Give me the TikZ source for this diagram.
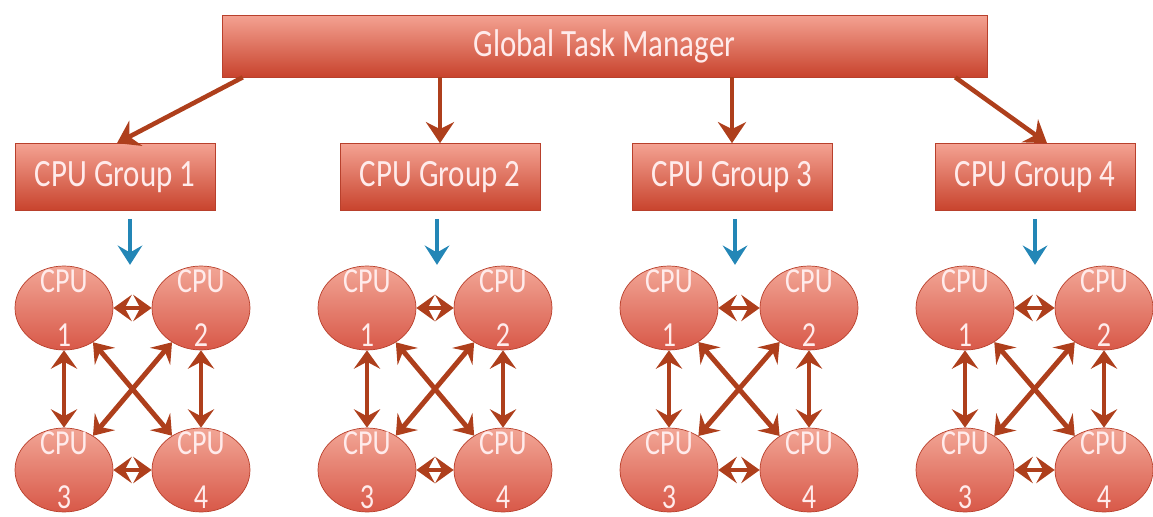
\documentclass[tikz,border=0pt]{standalone}
\usepackage{fontspec}
\usepackage{tikz}
\usetikzlibrary{calc,arrows.meta,shapes.geometric}
\newfontfamily\slidefont[FakeStretch=0.8]{Carlito}
\definecolor{boxtop}{HTML}{F4A292}
\definecolor{boxbottom}{HTML}{C8432D}
\definecolor{boxedge}{HTML}{B8402C}
\definecolor{cputop}{HTML}{F2A696}
\definecolor{cpubottom}{HTML}{D85848}
\definecolor{linkred}{HTML}{AE3F1C}
\definecolor{flowblue}{HTML}{2386B6}
\colorlet{labelwhite}{white!92!red}

\begin{document}
\begin{tikzpicture}[x=0.02cm, y=-0.02cm,
    taskbox/.style={draw=boxedge, top color=boxtop, bottom color=boxbottom, minimum height=1.24cm,
        text=labelwhite, font=\slidefont\fontsize{22}{26}\selectfont, inner sep=0pt},
    groupbox/.style={taskbox, minimum width=4cm, minimum height=1.34cm},
    cpu/.style={ellipse, draw=boxedge, top color=cputop, bottom color=cpubottom,
        minimum width=1.96cm, minimum height=1.68cm, inner sep=0pt},
    cpulabel/.style={text=labelwhite, align=center, font=\slidefont\fontsize{20}{31}\selectfont},
    feed/.style={linkred, line width=2.6pt, -{Stealth[length=12pt,width=16pt,inset=4pt]}},
    link/.style={linkred, line width=2.8pt,
        {Stealth[length=10.5pt,width=15pt,inset=4pt]}-{Stealth[length=10.5pt,width=15pt,inset=4pt]}},
    dispatch/.style={flowblue, line width=2.6pt, -{Stealth[length=11pt,width=14pt,inset=4pt]}}]
    % frame
    \useasboundingbox (0,0) rectangle (1153,517);
    % manager
    \node[taskbox, minimum width=15.3cm] (gtm) at (604.5,46) {Global Task Manager};

    % groups with four cpus each
    \foreach \i/\gx/\ax/\lx/\rx in {1/115/130/64/201, 2/440/437/367/503, 3/732/735/669/809, 4/1035/1035/965/1104} {
        \node[groupbox] (g\i) at (\gx,177) {CPU Group \i};
        \node[cpu, label={[cpulabel]center:{CPU\\1}}] (cpu\i-1) at (\lx,308) {};
        \node[cpu, label={[cpulabel]center:{CPU\\2}}] (cpu\i-2) at (\rx,308) {};
        \node[cpu, label={[cpulabel]center:{CPU\\3}}] (cpu\i-3) at (\lx,470) {};
        \node[cpu, label={[cpulabel]center:{CPU\\4}}] (cpu\i-4) at (\rx,470) {};
        % group to its cpus
        \draw[dispatch] ($(g\i.south)+(\ax-\gx,8)$) -- ++(0,46);
        % links between cpus
        \draw[link] (cpu\i-1) -- (cpu\i-2);
        \draw[link] (cpu\i-3) -- (cpu\i-4);
        \draw[link] (cpu\i-1) -- (cpu\i-3);
        \draw[link] (cpu\i-2) -- (cpu\i-4);
        \draw[link] (cpu\i-1) -- (cpu\i-4);
        \draw[link] (cpu\i-2) -- (cpu\i-3);
    }

    % manager to groups
    \draw[feed] ($(gtm.south west)+(21,0)$) -- ($(g1.north)+(2,0)$);
    \draw[feed] (gtm.south -| g2.north) -- (g2.north);
    \draw[feed] (gtm.south -| g3.north) -- (g3.north);
    \draw[feed] ($(gtm.south east)+(-32,0)$) -- ($(g4.north)+(12,0)$);
\end{tikzpicture}
\end{document}
